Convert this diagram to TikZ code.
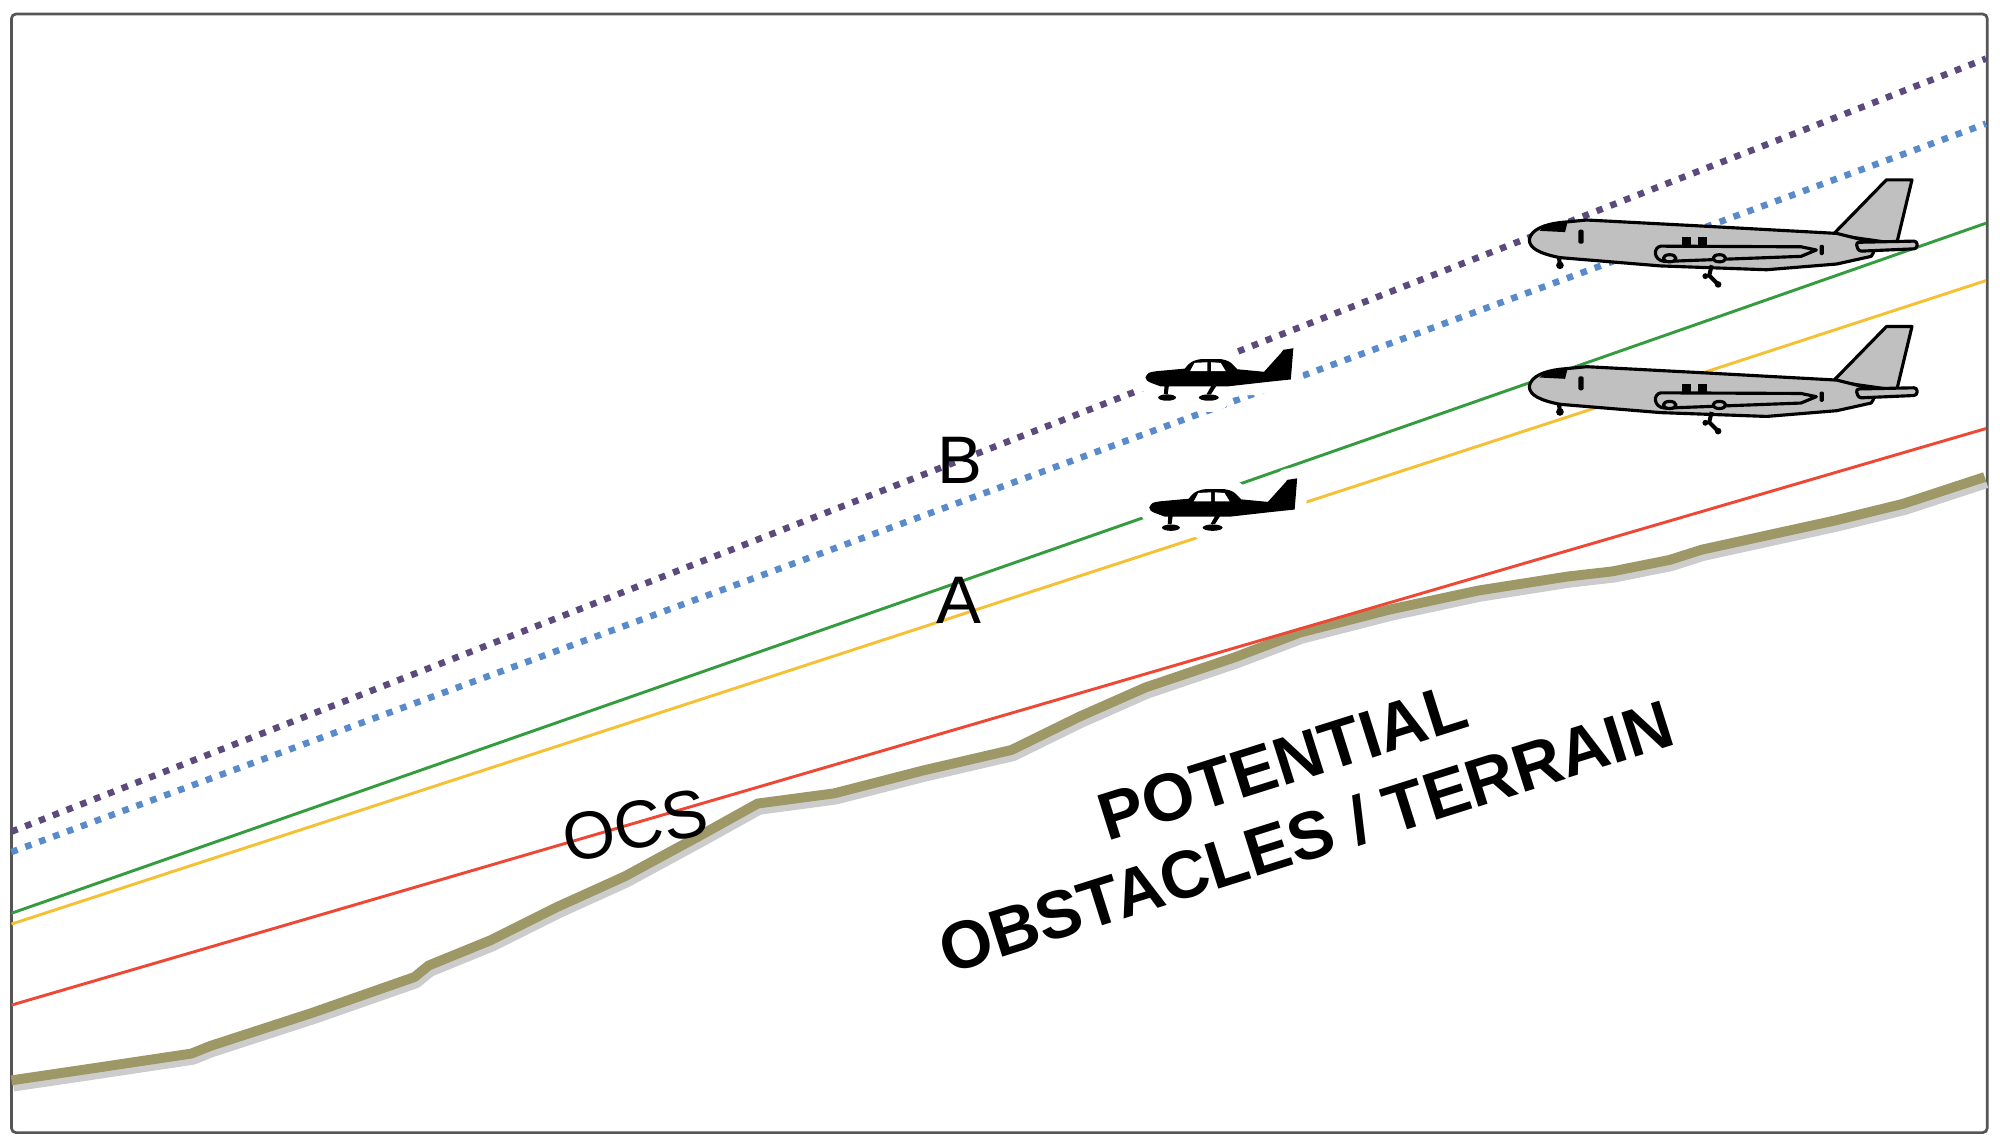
\documentclass[tikz,border=0pt]{standalone}
\usepackage{fontspec}
\setmainfont{Liberation Sans}
\definecolor{framegray}{RGB}{85,85,85}
\definecolor{ocsred}{RGB}{238,72,52}
\definecolor{pathgreen}{RGB}{52,156,62}
\definecolor{pathyellow}{RGB}{245,192,52}
\definecolor{dotpurple}{RGB}{92,74,124}
\definecolor{dotblue}{RGB}{88,138,204}
\definecolor{terrainolive}{RGB}{158,151,102}
\definecolor{planegray}{RGB}{192,192,192}
\newcommand{\lblfont}{\fontsize{15}{18}\selectfont}

\begin{document}
\begin{tikzpicture}[x=0.01cm, y=-0.01cm,
	every node/.style={inner sep=0pt},
	solidline/.style={line width=0.65pt},
	dotline/.style={line width=1.45pt, dash pattern=on 1.45pt off 1.85pt},
	terrain/.style={terrainolive, line width=2.2pt, line join=round},
	terrainshadow/.style={black!20, line width=2.4pt, line join=round, shift={(1.5,4.5)}},
	planebody/.style={fill=planegray, draw=black, line width=0.7pt, line join=round},
	smallhalo/.style={draw=white, line width=5pt, line join=round},
	smallfill/.style={fill=black},
	bigplane/.pic={
		\path[planebody] (238,-3) -- (280,-46) -- (300,-46) -- (288,4) -- cycle;
		\path[planebody] (0,1) .. controls (1,-7) and (12,-11) .. (24,-12.5) -- (45,-14.5) -- (131,-10) -- (241,-4) -- (265,2) .. controls (271,6) and (271,11) .. (268,14) -- (241,20) -- (186,24.5) -- (103,21.5) -- (24,15) .. controls (9,12) and (0,8) .. cycle;
		\path[planebody, rounded corners=0.7pt] (256,3) -- (304,2) -- (304,8) -- (258,10) -- cycle;
		\path[planebody] (103,6) -- (213,6.5) -- (225,9) -- (213,14) -- (106,18) .. controls (97,17) and (97,7) .. cycle;
		\fill (120,-1) rectangle (127,6);
		\fill (132,-1) rectangle (139,6);
		\path[planebody] (110,15.5) ellipse (5 and 2.8);
		\path[planebody] (149,15.5) ellipse (5 and 2.8);
		\fill[rounded corners=0.3pt] (38.5,-7) rectangle (42.5,4);
		\fill[rounded corners=0.3pt] (227.5,5) rectangle (231,13);
		\fill (8,-6) .. controls (12,-10) .. (21,-12) -- (30,-13) -- (28,-5) -- cycle;
		\draw[line width=0.9pt] (23,14) -- (24,20);
		\fill (24,21) circle (3);
		\draw[line width=0.9pt] (143,21) -- (141,29) -- (147,35);
		\fill (138,29.5) circle (2.3) (148,36) circle (2.6);
	},
	smallplane/.pic={
		\foreach \s in {smallhalo, smallfill}{
			\path[\s] (0,0) .. controls (2,-4) .. (9,-5) -- (31,-7) .. controls (35,-13) and (40,-14.5) .. (46,-14.5) -- (59,-14.5) .. controls (66,-13) .. (72,-6.5) -- (93,-4.5) -- (107,-20) .. controls (108,-22) .. (110,-22) -- (116,-23) -- (114,1.5) -- (95,3.5) -- (64,7) -- (12,7) -- (4,4) .. controls (1,2.5) .. cycle;
			\path[\s] (15,6) -- (18.5,6) -- (17.5,13) -- (14.5,13) -- cycle;
			\path[\s] (17,15.7) ellipse (7 and 2.5);
			\path[\s] (52,6) -- (56,6) -- (51.5,13) -- (48,13) -- cycle;
			\path[\s] (49.7,15.7) ellipse (7.8 and 2.5);
		}
		\fill[white] (35,-5) -- (38.5,-11.5) -- (48.5,-12) -- (48.5,-5) -- cycle;
		\fill[white] (51.5,-5) -- (51.5,-12) -- (59,-11.5) -- (63,-5) -- cycle;
	}]
	\useasboundingbox (0,0) rectangle (1568,898);
	\fill[white] (0,0) rectangle (1568,898);
	\draw[framegray, line width=0.6pt, rounded corners=1pt] (9,11) rectangle (1558,888);

	% ground
	\foreach \s in {terrainshadow, terrain}{
		\draw[\s] (9,847) -- (70,838) -- (150,826) -- (165,820) -- (245,794) -- (325,766) -- (336,757) -- (385,737) -- (437,711) -- (490,687) -- (549,655) -- (594,630) -- (654,622) -- (724,604) -- (793,588) -- (846,562) -- (898,539) -- (969,515) -- (1019,496) -- (1089,478) -- (1159,463) -- (1229,452) -- (1264,448) -- (1309,439) -- (1334,431) -- (1439,408) -- (1492,395) -- (1556,374);
	}

	% approach paths
	\draw[dotline, dotpurple] (9,652) -- (1557,46);
	\draw[dotline, dotblue] (9,668) -- (1557,97);
	\draw[solidline, pathgreen] (9,716) -- (1557,175);
	\draw[solidline, pathyellow] (9,724.5) -- (1557,220);
	\draw[solidline, ocsred] (9,788) -- (1557,336);

	% aircraft
	\pic at (898,296) {smallplane};
	\pic at (901,398) {smallplane};
	\pic at (1199,187) {bigplane};
	\pic at (1199,302) {bigplane};

	\node[font=\lblfont] (B) at (752.5,361) {B};
	\node[font=\lblfont] (A) at (752,471) {A};
	\node[font=\lblfont, rotate=12] (ocs) at (498,647) {OCS};
	\node[font=\bfseries\fontsize{15}{17.6}\selectfont, align=center, rotate=17.5] (obstacles) at (1015,627) {POTENTIAL\\OBSTACLES / TERRAIN};
\end{tikzpicture}
\end{document}
